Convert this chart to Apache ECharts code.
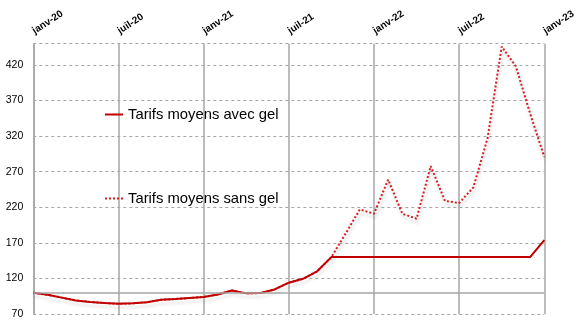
<!DOCTYPE html>
<html>
<head>
<meta charset="utf-8">
<script src="https://cdn.jsdelivr.net/npm/echarts@6/dist/echarts.min.js"></script>
<style>
html,body{margin:0;padding:0;background:#fff;}
#chart{width:582px;height:328px;}
</style>
</head>
<body>
<div id="chart"></div>
<script>
var months = ['janv-20','févr-20','mars-20','avr-20','mai-20','juin-20','juil-20','août-20','sept-20','oct-20','nov-20','déc-20',
  'janv-21','févr-21','mars-21','avr-21','mai-21','juin-21','juil-21','août-21','sept-21','oct-21','nov-21','déc-21',
  'janv-22','févr-22','mars-22','avr-22','mai-22','juin-22','juil-22','août-22','sept-22','oct-22','nov-22','déc-22',
  'janv-23'];
var avecGel = [100, 97, 93, 89, 87, 85.5, 84.5, 85, 86.5, 90, 91, 92.5,
  94, 97.5, 103, 99, 99.5, 104.5, 114, 119.5, 130, 150, 150, 150,
  150, 150, 150, 150, 150, 150, 150, 150, 150, 150, 150, 150,
  174];
var sansGel = [100, 97, 93, 89, 87, 85.5, 84.5, 85, 86.5, 90, 91, 92.5,
  94, 97.5, 103, 99, 99.5, 104.5, 114, 119.5, 130, 150, 183, 217,
  211, 259, 211, 204, 278, 229, 226, 248, 317, 446, 418, 352,
  291];
var seriesNames = ['Tarifs moyens avec gel', 'Tarifs moyens sans gel'];
var yMin = 70, yMax = 450, yStep = 50;
var axisCross = 100;

var font = '"Liberation Sans", Arial, sans-serif';
var chart = echarts.init(document.getElementById('chart'), null, {renderer: 'canvas'});
chart.setOption({
  animation: false,
  backgroundColor: '#ffffff',
  grid: {left: 33.3, right: 37.7, top: 43.7, bottom: 14, containLabel: false},
  legend: {
    data: seriesNames,
    orient: 'vertical',
    left: 99, top: 102,
    itemWidth: 18, itemHeight: 2, itemGap: 69,
    textStyle: {fontFamily: font, fontSize: 14.8, color: '#000'}
  },
  xAxis: {
    type: 'category', position: 'top', data: months, boundaryGap: false,
    axisLine: {show: false}, axisTick: {show: false},
    axisLabel: {interval: 5, rotate: -33, fontFamily: font, fontWeight: 'bold', fontSize: 10, color: '#000', margin: 12},
    splitLine: {show: true, interval: 5, lineStyle: {color: '#a6a6a6', width: 1.5}}
  },
  yAxis: {
    type: 'value', min: yMin, max: yMax, interval: yStep,
    axisLine: {show: true, lineStyle: {color: '#a6a6a6', width: 1.5}},
    axisTick: {show: false},
    axisLabel: {fontFamily: font, fontSize: 10.5, color: '#000', margin: 10,
      formatter: function (v) { return v === yMax ? '' : String(v); }},
    splitLine: {show: true, lineStyle: {color: '#a6a6a6', width: 1, type: [3, 3]}}
  },
  series: [
    {
      name: seriesNames[1], type: 'line', data: sansGel, symbol: 'none', z: 2,
      lineStyle: {color: '#d81e1e', width: 2, type: [2, 2], cap: 'butt',
        shadowColor: 'rgba(0,0,0,0.2)', shadowBlur: 3, shadowOffsetX: 1, shadowOffsetY: 4},
      itemStyle: {color: '#d81e1e'}
    },
    {
      name: seriesNames[0], type: 'line', data: avecGel, symbol: 'none', z: 3,
      lineStyle: {color: '#c00000', width: 2},
      itemStyle: {color: '#c00000'},
      markLine: {
        silent: true, symbol: 'none', label: {show: false},
        lineStyle: {color: '#a6a6a6', width: 1.5, type: 'solid'},
        data: [{yAxis: axisCross}]
      }
    }
  ]
});
</script>
</body>
</html>
